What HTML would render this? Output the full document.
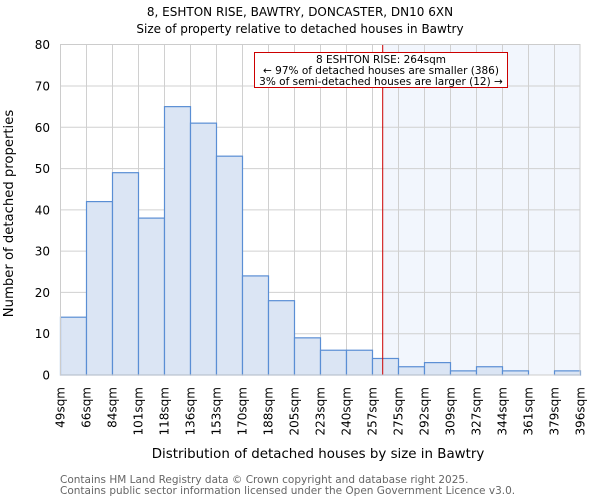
<!DOCTYPE html>
<html><head><meta charset="utf-8"><style>body{margin:0;background:#fff}svg{display:block}text{font-family:"DejaVu Sans","Liberation Sans",sans-serif}</style></head><body>
<svg width="600" height="500" xmlns="http://www.w3.org/2000/svg">
<rect x="383" y="44.5" width="197" height="330.5" fill="#f2f6fd"/>
<g stroke="#d0d0d0" stroke-width="1" id="grid"></g>
<g id="bars"></g>
<line x1="382.7" y1="44.5" x2="382.7" y2="375" stroke="#cc0000" stroke-width="1"/>
<rect x="60.5" y="44.5" width="519.5" height="330.5" fill="none" stroke="#cccccc"/>
<rect x="254.5" y="52.5" width="253" height="35" fill="#fff" stroke="#cc0000"/>
<text font-size="10.5" text-anchor="middle" x="381" y="63">8 ESHTON RISE: 264sqm</text>
<text font-size="10.5" text-anchor="middle" x="381" y="74">← 97% of detached houses are smaller (386)</text>
<text font-size="10.5" text-anchor="middle" x="381" y="85">3% of semi-detached houses are larger (12) →</text>
<text font-size="12" text-anchor="middle" x="300" y="16">8, ESHTON RISE, BAWTRY, DONCASTER, DN10 6XN</text>
<text font-size="12" text-anchor="middle" x="300" y="33">Size of property relative to detached houses in Bawtry</text>
<text font-size="13.4" text-anchor="middle" x="318" y="458">Distribution of detached houses by size in Bawtry</text>
<text font-size="13.2" text-anchor="middle" transform="translate(13,213.5) rotate(-90)">Number of detached properties</text>
<text font-size="10.5" fill="#666" x="60" y="483">Contains HM Land Registry data © Crown copyright and database right 2025.</text>
<text font-size="10.5" fill="#666" x="60" y="494">Contains public sector information licensed under the Open Government Licence v3.0.</text>
<g id="lbl" font-size="12"></g>
<script>
var ns="http://www.w3.org/2000/svg";
function el(p,t,a,txt){var e=document.createElementNS(ns,t);for(var k in a)e.setAttribute(k,a[k]);if(txt)e.textContent=txt;document.getElementById(p).appendChild(e);}
var s=330.3/80;
for(var i=1;i<20;i++)el("grid","line",{x1:60.5+26*i,y1:44.5,x2:60.5+26*i,y2:375});
for(var v=10;v<80;v+=10){var y=375-v*s;el("grid","line",{x1:60.5,y1:y,x2:580,y2:y});}
var d=[14,42,49,38,65,61,53,24,18,9,6,6,4,2,3,1,2,1,0,1];
d.forEach(function(v,i){if(v>0)el("bars","rect",{x:60.5+26*i,y:375-v*s,width:26,height:v*s,fill:"#dbe5f4",stroke:"#5a8ed4","stroke-width":1.2});});
var L=["49","66","84","101","118","136","153","170","188","205","223","240","257","275","292","309","327","344","361","379","396"];
L.forEach(function(t,i){var x=60.5+26*i+4;el("lbl","text",{"text-anchor":"end",transform:"translate("+x+",387) rotate(-90)"},t+"sqm");});
for(var v=0;v<=80;v+=10)el("lbl","text",{"text-anchor":"end",x:50,y:375-v*s+4.5},""+v);
</script>
</svg>
</body></html>
